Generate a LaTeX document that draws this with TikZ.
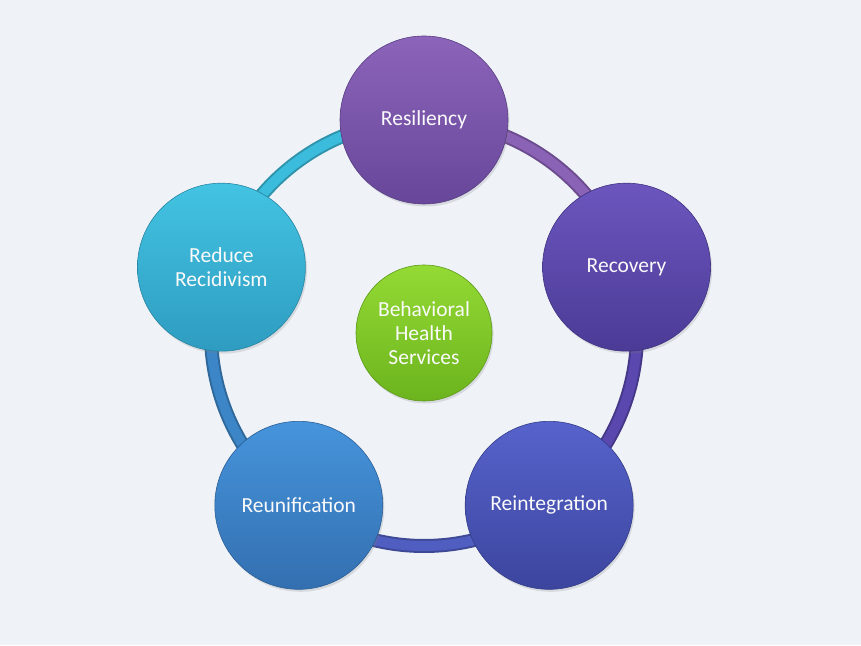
\documentclass[tikz,border=0pt]{standalone}
\usepackage{fontspec}
\setmainfont{Carlito}
\usetikzlibrary{shadows,calc}
\definecolor{bgc}{HTML}{EFF3F8}
\definecolor{resT}{HTML}{8C64BA}\definecolor{resB}{HTML}{67479A}
\definecolor{recT}{HTML}{6C56BE}\definecolor{recB}{HTML}{4B3B96}
\definecolor{reiT}{HTML}{5763CC}\definecolor{reiB}{HTML}{3C459E}
\definecolor{reuT}{HTML}{4694DC}\definecolor{reuB}{HTML}{336FB0}
\definecolor{redT}{HTML}{43C3E2}\definecolor{redB}{HTML}{2E9CC0}
\definecolor{bhT}{HTML}{94DA34}\definecolor{bhB}{HTML}{6CB41E}
\definecolor{ringA}{HTML}{3CBCDC}
\definecolor{ringB}{HTML}{3C86C8}
\definecolor{ringC}{HTML}{4F5EC0}
\definecolor{ringD}{HTML}{5A48AE}
\definecolor{ringE}{HTML}{8A62B6}
\pgfdeclarelayer{bgl}
\pgfdeclarelayer{ringl}
\pgfsetlayers{bgl,ringl,main}
\tikzset{
  x=1pt,y=1pt,
  bubble/.style 2 args={circle,minimum size=168pt,inner sep=0pt,align=center,
    text=white!96!gray,font=\fontsize{21.5}{24}\selectfont,
    top color=#1,bottom color=#2,draw=#2!85!black,line width=0.6pt,
    drop shadow={opacity=0.22,shadow xshift=1.5pt,shadow yshift=-2.5pt}},
  ringseg/.style={line width=14pt,draw=#1!78!black,
    postaction={draw=#1,line width=10pt}},
}
\begin{document}
\begin{tikzpicture}
\begin{pgfonlayer}{bgl}
\fill[bgc] (0,0) rectangle (861,645);
\end{pgfonlayer}
\useasboundingbox (0,0) rectangle (861,645);
\coordinate (c) at (424,312);
\node[bubble={resT}{resB}] (res) at ($(c)+(90:213)$) {Resiliency};
\node[bubble={recT}{recB}] (rec) at ($(c)+(18:213)$) {Recovery};
\node[bubble={reiT}{reiB}] (rei) at ($(c)+(-54:213)$) {Reintegration};
\node[bubble={reuT}{reuB}] (reu) at ($(c)+(234:213)$) {Reunification};
\node[bubble={redT}{redB}] (red) at ($(c)+(162:213)$) {Reduce\\Recidivism};
\node[bubble={bhT}{bhB},minimum size=136pt] (bh) at (c) {Behavioral\\Health\\Services};
\begin{pgfonlayer}{ringl}
\draw[ringseg=ringA] (res.center) arc[start angle=90,end angle=162,radius=213];
\draw[ringseg=ringB] (red.center) arc[start angle=162,end angle=234,radius=213];
\draw[ringseg=ringC] (reu.center) arc[start angle=234,end angle=306,radius=213];
\draw[ringseg=ringD] (rei.center) arc[start angle=306,end angle=378,radius=213];
\draw[ringseg=ringE] (rec.center) arc[start angle=18,end angle=90,radius=213];
\end{pgfonlayer}
\end{tikzpicture}
\end{document}
